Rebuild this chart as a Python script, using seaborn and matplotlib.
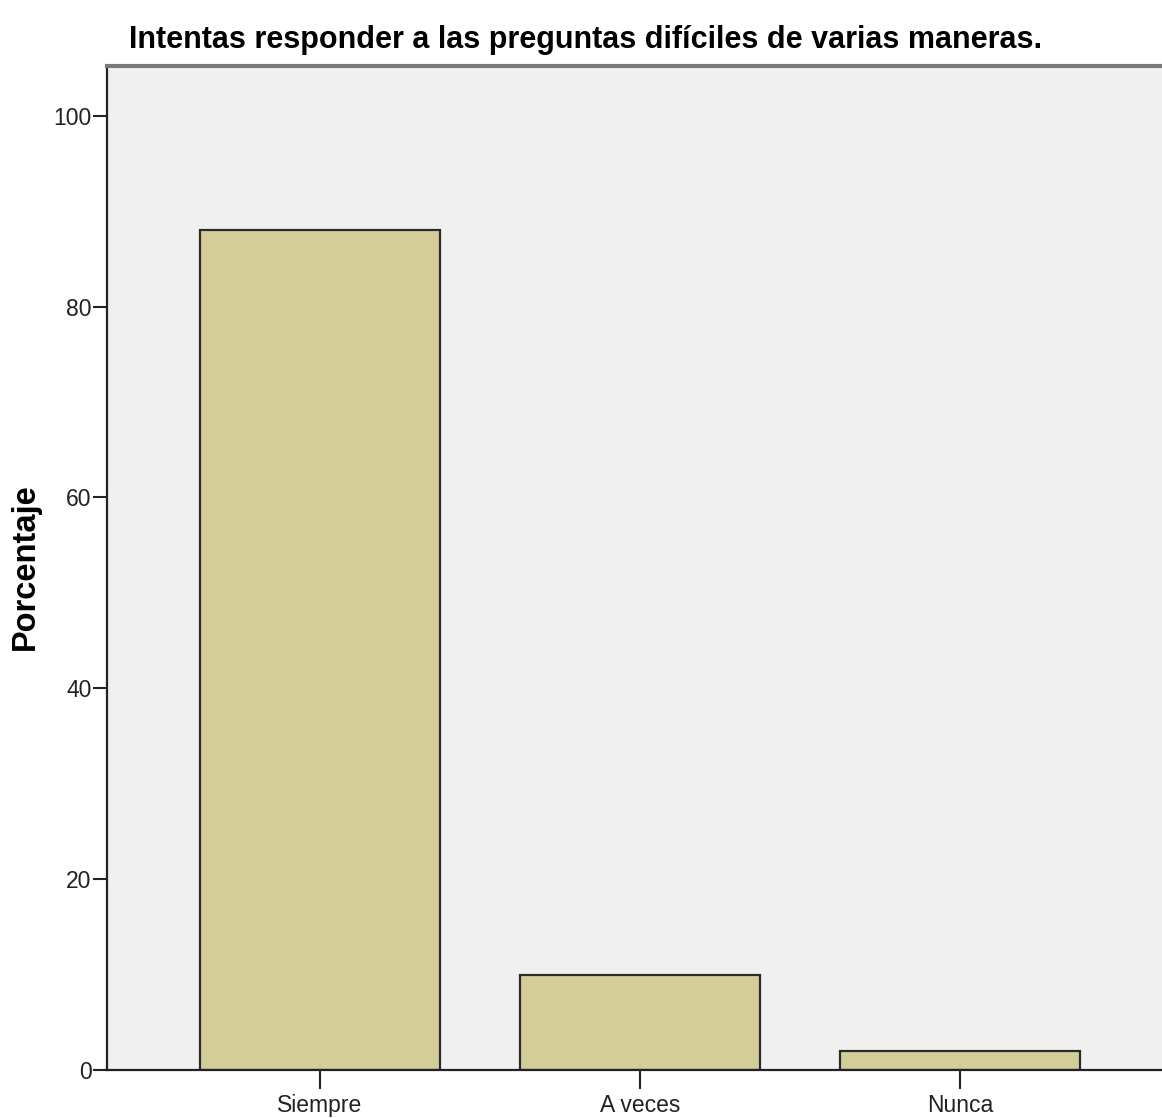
import numpy as np
import pandas as pd
import matplotlib
matplotlib.use("Agg")
import matplotlib.pyplot as plt
from matplotlib import font_manager
import seaborn as sns

# ================= Data =================
categories = ["Siempre", "A veces", "Nunca"]
percentages = [88.0, 10.0, 2.0]

title_text = "Intentas responder a las preguntas difíciles de varias maneras."
y_label = "Porcentaje"
y_ticks = [0, 20, 40, 60, 80, 100]

BAR_COLOR = "#D3CE97"
EDGE_COLOR = "#2B2B2B"
BG_COLOR = "#F0F0F0"

df = pd.DataFrame({"Categoria": categories, "Porcentaje": percentages})

# wide bold font for the y label (Arial-like, not narrow)
ylabel_font = None
for f in font_manager.fontManager.ttflist:
    if f.fname.endswith("LiberationSans-Bold.ttf"):
        ylabel_font = font_manager.FontProperties(fname=f.fname, size=23.5)
        break
if ylabel_font is None:
    ylabel_font = font_manager.FontProperties(family="DejaVu Sans", weight="bold", size=21)

# ================= Plot =================
sns.set_style("white")
plt.rcParams["font.family"] = ["Liberation Sans", "DejaVu Sans"]
plt.rcParams["font.stretch"] = "condensed"

fig = plt.figure(figsize=(11.62, 11.18), dpi=100)
ax = fig.add_axes([0.0921, 0.0429, 0.919, 0.898])

sns.barplot(data=df, x="Categoria", y="Porcentaje", order=categories,
            color=BAR_COLOR, edgecolor=EDGE_COLOR, linewidth=1.6,
            width=0.75, saturation=1, ax=ax)

ax.set_facecolor(BG_COLOR)
ax.set_xlim(-0.666, 2.672)
ax.set_ylim(0, 105.2)
ax.set_yticks(y_ticks)
ax.set_yticklabels([str(t) for t in y_ticks])

ax.set_xlabel("")
ax.set_ylabel("")
fig.text(25 / 1162, 1 - 567 / 1118, y_label, rotation=90,
         ha="center", va="center", color="black", fontproperties=ylabel_font)

ax.tick_params(axis="y", direction="out", length=10, width=1.5,
               colors="#222222", labelsize=16.5, pad=1, left=True)
ax.tick_params(axis="x", direction="out", length=14, width=1.5,
               colors="#222222", labelsize=16.5, pad=3, bottom=True)
for lab in ax.get_xticklabels() + ax.get_yticklabels():
    lab.set_fontstretch("condensed")

for side in ["left", "bottom"]:
    ax.spines[side].set_color("#222222")
    ax.spines[side].set_linewidth(1.6)
ax.spines["top"].set_color("#7A7A7A")
ax.spines["top"].set_linewidth(3)
ax.spines["right"].set_visible(False)

fig.text(586 / 1162, 1 - 48 / 1118, title_text, ha="center", va="baseline",
         fontsize=22, fontweight="bold", fontstretch="condensed", color="black")

fig.savefig("out.png", dpi=100)
plt.close(fig)
